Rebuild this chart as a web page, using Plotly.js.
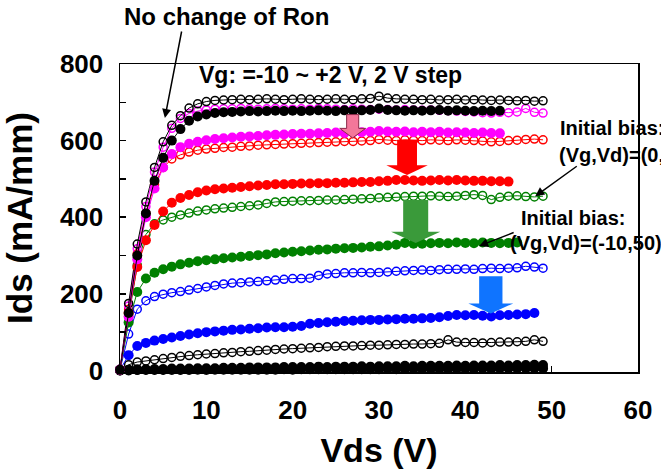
<!DOCTYPE html>
<html><head><meta charset="utf-8">
<script src="https://cdn.plot.ly/plotly-3.0.1.min.js"></script>
<style>html,body{margin:0;padding:0;background:#fff}#chart{width:661px;height:471px}</style>
</head><body><div id="chart"></div>
<script>
// Drain voltage (V)
const vds = [0,1,2,3,4,5,6,7,8,9,10,11,12,13,14,15,16,17,18,19,20,21,22,23,24,25,26,27,28,29,30,31,32,33,34,35,36,37,38,39,40,41,42,43,44,45,46,47,48,49];

// Initial bias (Vg,Vd)=(0,0)  -> open circles
const openVg2   = [3,175,330,440,530,597,640,665,685,696,702,705,706,707,708,707,708,709,708,707,708,709,708,707,708,709,708,707,709,710,716,711,709,708,708,707,708,706,707,708,706,707,706,705,706,705,704,705,703,704];
const openVg0   = [3,168,318,428,518,583,632,658,671,677,680,682,683,683,684,683,682,683,684,683,682,683,682,684,683,682,681,683,682,681,682,681,680,681,680,679,680,679,678,677,676,675,673,672,674,673,675,684,674,672];
const openVgm2  = [2,160,305,410,485,530,552,563,570,575,578,580,582,583,585,586,588,589,590,591,592,593,594,595,596,597,598,598,599,600,603,601,600,602,601,600,602,601,600,602,601,600,599,597,598,600,601,603,604,602];
const openVgm4  = [2,140,275,355,383,393,400,406,411,416,419,422,424,426,428,430,432,436,440,441,442,443,443,444,445,445,446,447,448,449,451,452,453,454,455,455,456,455,454,455,457,459,457,446,452,455,456,454,453,455];
const openVgm6  = [2,95,160,182,193,199,203,206,210,214,218,222,226,228,229,231,232,234,236,238,240,240,241,248,252,253,255,255,256,255,256,257,259,260,261,262,261,263,264,264,265,264,266,267,266,267,268,272,270,267];
const openVgm8  = [1,15,22,25,28,31,34,37,39,41,43,44,46,47,49,50,52,53,55,56,57,58,59,60,62,63,64,64,65,66,66,67,68,68,69,69,70,71,80,74,73,73,72,73,74,74,75,76,80,76];
const openVgm10 = [0,1,1,2,2,2,3,2,3,3,3,4,3,4,4,3,4,4,5,4,4,5,4,10,5,5,4,5,5,6,5,5,9,5,6,5,6,6,5,6,6,10,6,6,7,6,7,6,7,6];

// Initial bias (Vg,Vd)=(-10,50) -> filled circles
const fillVg2   = [2,150,300,410,495,555,600,630,652,663,668,672,674,675,676,677,676,677,678,677,678,677,678,679,678,677,679,678,679,680,684,680,679,678,679,678,679,680,678,679,678,677,678,677,678];
const fillVg0   = [2,140,290,400,475,530,565,583,592,597,601,604,606,608,610,611,612,614,615,616,617,618,618,619,620,621,620,622,622,623,625,624,623,624,622,623,622,623,621,622,621,620,621,620,619];
const fillVgm2  = [2,150,270,340,380,415,438,450,458,465,470,473,475,477,479,481,483,484,486,486,487,488,488,489,489,490,490,491,492,492,494,495,497,497,496,495,496,497,496,497,496,495,495,494,494,493];
const fillVgm4  = [2,125,205,240,255,264,271,277,281,285,288,290,293,295,297,299,301,303,306,308,310,311,313,315,316,318,319,320,321,323,324,326,328,333,331,331,332,333,332,334,333,332,334,333,332,333,334];
const fillVgm6  = [2,40,64,72,78,82,86,90,94,97,100,102,104,106,107,109,110,112,113,113,114,116,122,124,126,127,129,130,131,132,132,133,134,135,135,136,137,139,142,145,144,145,143,141,144,145,146,147,150];
const fillVgm8  = [0,2,3,3,4,4,5,5,5,6,6,6,7,7,7,8,8,8,8,9,9,9,9,10,9,10,10,10,11,10,11,11,11,12,11,12,12,12,12,13,12,13,13,13,14,13,14,14,15,14];
const fillVgm10 = [0,0,1,1,1,1,1,1,1,2,1,2,2,2,2,2,2,2,2,3,2,3,3,3,3,3,3,3,3,3,3,4,3,4,4,4,4,4,4,4,4,4,5,4,5,5,5,5,5,5];

const xTicks = [0,10,20,30,40,50,60];
const yTicks = [0,200,400,600,800];

const FONT = 'Liberation Sans, Arial, Helvetica, sans-serif';

function series(vals, color, open) {
  return {
    x: vds.slice(0, vals.length), y: vals, type: 'scatter', mode: 'lines+markers',
    line: {color: color, width: 1},
    marker: open
      ? {symbol: 'circle-open', size: 8, color: color, line: {width: 1.5, color: color}}
      : {symbol: 'circle', size: 10, color: color, line: {width: 0}},
    cliponaxis: false, hoverinfo: 'skip'
  };
}

const traces = [
  series(openVgm10, '#000000', true),
  series(openVgm8, '#000000', true),
  series(openVgm6, '#0000ff', true),
  series(openVgm4, '#008000', true),
  series(openVgm2, '#ff0000', true),
  series(openVg0, '#ff00ff', true),
  series(openVg2, '#000000', true),
  series(fillVgm10, '#000000', false),
  series(fillVgm8, '#000000', false),
  series(fillVgm6, '#0000ff', false),
  series(fillVgm4, '#008000', false),
  series(fillVgm2, '#ff0000', false),
  series(fillVg0, '#ff00ff', false),
  series(fillVg2, '#000000', false)
];

function blockArrow(xc, sh, hh, yTop, yBase, yTip, fill, lc) {
  const p = `M ${xc-sh},${yTop} L ${xc+sh},${yTop} L ${xc+sh},${yBase} L ${xc+hh},${yBase} L ${xc},${yTip} L ${xc-hh},${yBase} L ${xc-sh},${yBase} Z`;
  return {type: 'path', xref: 'x', yref: 'y', path: p, fillcolor: fill, line: {color: lc, width: lc === fill ? 0 : 1}, layer: 'above'};
}

const shapes = [
  blockArrow(26.95, 0.7, 1.5, 668, 632, 607, '#f4779a', '#8a2a48'),
  blockArrow(33.25, 1.15, 2.4, 602, 536, 510, '#ff0000', '#ff0000'),
  blockArrow(34.25, 1.45, 2.85, 445, 362, 333, '#3a9a3a', '#3a9a3a'),
  blockArrow(42.95, 1.35, 2.6, 246, 175, 149, '#0f74ff', '#0f74ff')
];

const bold = (size) => ({family: FONT, size: size, color: '#000', weight: 'bold'});

const annotations = [
  {xref: 'paper', yref: 'paper', x: 0.004, y: 1.1526, xanchor: 'left', yanchor: 'middle', text: 'No change of Ron', showarrow: false, font: bold(24)},
  {xref: 'x', yref: 'y', x: 5.2, y: 659, ax: 17, ay: -88, text: '', showarrow: true, arrowhead: 2, arrowsize: 1.2, arrowwidth: 1.5, arrowcolor: '#000'},
  {xref: 'paper', yref: 'paper', x: 0.1486, y: 0.964, xanchor: 'left', yanchor: 'middle', text: 'Vg: =-10 ~ +2 V, 2 V step', showarrow: false, font: bold(23)},
  {xref: 'paper', yref: 'paper', x: 0.8456, y: 0.792, xanchor: 'left', yanchor: 'middle', text: 'Initial bias:', showarrow: false, font: bold(20)},
  {xref: 'paper', yref: 'paper', x: 0.8436, y: 0.7045, xanchor: 'left', yanchor: 'middle', text: '(Vg,Vd)=(0,0)', showarrow: false, font: bold(20)},
  {xref: 'x', yref: 'y', x: 48.1, y: 455, ax: 43, ay: -31, text: '', showarrow: true, arrowhead: 2, arrowsize: 1.2, arrowwidth: 1.5, arrowcolor: '#000'},
  {xref: 'paper', yref: 'paper', x: 0.770, y: 0.50, xanchor: 'left', yanchor: 'middle', text: 'Initial bias:', showarrow: false, font: bold(20)},
  {xref: 'paper', yref: 'paper', x: 0.749, y: 0.419, xanchor: 'left', yanchor: 'middle', text: '(Vg,Vd)=(-10,50)', showarrow: false, font: bold(20)},
  {xref: 'x', yref: 'y', x: 41.6, y: 325, ax: 36, ay: -14, text: '', showarrow: true, arrowhead: 2, arrowsize: 1.2, arrowwidth: 1.5, arrowcolor: '#000'}
];

const layout = {
  width: 661, height: 471,
  margin: {l: 120, r: 23, t: 64, b: 99, pad: 0},
  paper_bgcolor: '#fff', plot_bgcolor: '#fff',
  showlegend: false,
  xaxis: {
    range: [0, 60], tickvals: xTicks, ticktext: xTicks.map(String),
    ticks: 'inside', ticklen: 6, tickwidth: 1.5, tickcolor: '#000',
    showline: true, linecolor: '#000', linewidth: 1.5, mirror: true,
    showgrid: false, zeroline: false,
    tickfont: bold(26), ticklabelstandoff: 14,
    title: {text: 'Vds (V)', font: bold(34), standoff: 14}
  },
  yaxis: {
    range: [-4, 800], tickvals: yTicks, ticktext: yTicks.map(String),
    ticks: 'inside', ticklen: 6, tickwidth: 1.5, tickcolor: '#000',
    minor: {dtick: 100, ticks: 'inside', ticklen: 6, tickwidth: 1.5, tickcolor: '#000', showgrid: false},
    showline: true, linecolor: '#000', linewidth: 1.5, mirror: true,
    showgrid: false, zeroline: false,
    tickfont: bold(26), ticklabelstandoff: 10,
    title: {text: 'Ids (mA/mm)', font: bold(35), standoff: 20}
  },
  shapes: shapes,
  annotations: annotations
};

Plotly.newPlot('chart', traces, layout, {staticPlot: true, displayModeBar: false});
</script>
</body></html>
